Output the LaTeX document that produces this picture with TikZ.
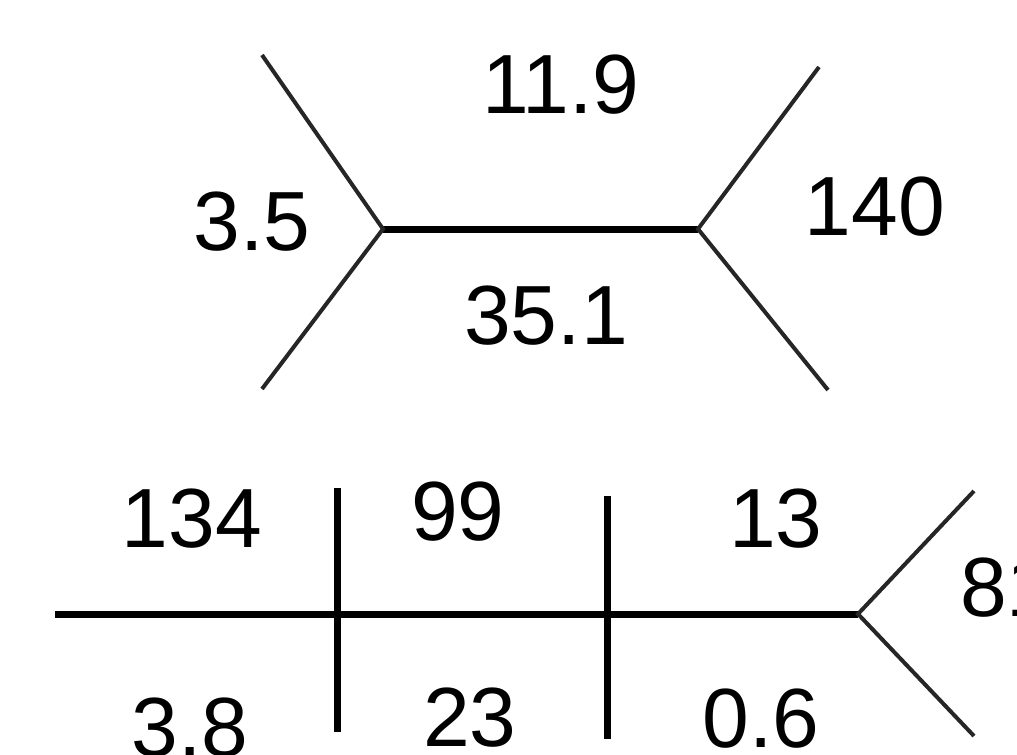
\documentclass[tikz,border=0pt]{standalone}
\usepackage{fontspec}
\setmainfont{Liberation Sans}
\begin{document}
\begin{tikzpicture}[x=1bp,y=-1bp,
  straight/.style={line width=7bp,black,line cap=butt},
  diag/.style={line width=4bp,black!85,line cap=butt},
  num/.style={inner sep=0pt,font=\fontsize{84bp}{84bp}\selectfont}]
\useasboundingbox (0,0) rectangle (1017,755);
\clip (0,0) rectangle (1017,755);
% top tree
\coordinate (tl) at (383,229);
\coordinate (tr) at (698,229);
\coordinate (tlu) at (262,55);
\coordinate (tld) at (262,389);
\coordinate (tru) at (819,67);
\coordinate (trd) at (828,390);
\draw[straight] (tl) -- (tr);
\draw[diag] (tlu) -- (tl) -- (tld);
\draw[diag] (tru) -- (tr) -- (trd);
\node[num] (l119) at (561,85) {11.9};
\node[num] (l140) at (875,207) {140};
\node[num] (l35) at (252,222) {3.5};
\node[num] (l351) at (546,316) {35.1};
% bottom tree
\coordinate (bl) at (55,614);
\coordinate (br) at (858,614);
\coordinate (t1u) at (337,488);
\coordinate (t1d) at (337,732);
\coordinate (t2u) at (607,496);
\coordinate (t2d) at (607,739);
\coordinate (bru) at (974,491);
\coordinate (brd) at (974,736);
\draw[straight] (bl) -- (br);
\draw[straight] (t1u) -- (t1d);
\draw[straight] (t2u) -- (t2d);
\draw[diag] (bru) -- (br) -- (brd);
\node[num] (l134) at (192,519) {134};
\node[num] (l99) at (458,512) {99};
\node[num] (l13) at (776,519) {13};
\node[num] (l38) at (190,728) {3.8};
\node[num] (l23) at (470,718) {23};
\node[num] (l06) at (761,719) {0.6};
\node[num,anchor=west] (l81) at (960,588) {81};
\end{tikzpicture}
\end{document}
